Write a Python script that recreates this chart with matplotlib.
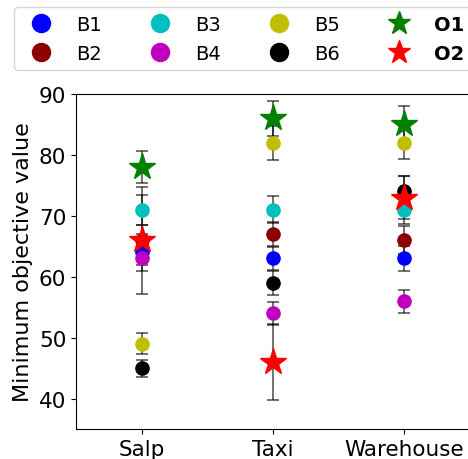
import matplotlib.pyplot as plt
from matplotlib.lines import Line2D

benchmarks = ["Salp", "Taxi", "Warehouse"]

# mean minimum objective value and error per method
B1 = [64, 63, 63]
B1_err = [3.0, 1.9, 2.1]
B2 = [66, 67, 66]
B2_err = [2.5, 2.0, 2.3]
B3 = [71, 71, 71]
B3_err = [2.5, 2.2, 2.3]
B4 = [63, 54, 56]
B4_err = [1.1, 1.9, 1.9]
B5 = [49, 82, 82]
B5_err = [1.7, 2.8, 2.7]
B6 = [45, 59, 74]
B6_err = [1.4, 2.0, 2.5]
O1 = [78, 86, 85]
O1_err = [2.6, 2.9, 3.0]
O2 = [66, 46, 73]
O2_err = [8.8, 6.2, 3.5]

labels = ["B1", "B2", "B3", "B4", "B5", "B6", "O1", "O2"]
means = [B1, B2, B3, B4, B5, B6, O1, O2]
errs = [B1_err, B2_err, B3_err, B4_err, B5_err, B6_err, O1_err, O2_err]
colors = ["blue", "darkred", "c", "m", "y", "k", "g", "r"]
markers = ["o"] * 6 + ["*"] * 2

fig = plt.figure(figsize=(4.68, 4.6), dpi=100)
ax = fig.add_axes([76 / 468, 30 / 460, 394 / 468, 335 / 460])

x = list(range(len(benchmarks)))
for lab, m, e, c, mk in zip(labels, means, errs, colors, markers):
    ms = 20 if mk == "*" else 9.5
    ax.errorbar(x, m, yerr=e, fmt=mk, color=c, ms=ms, ecolor=(0, 0, 0, 0.6),
                elinewidth=1.3, capsize=4, capthick=1.3, label=lab)

ax.set_xlim(-0.5, 2.5)
ax.set_ylim(35, 90)
ax.set_xticks(x)
ax.set_xticklabels(benchmarks)
ax.set_yticks([40, 50, 60, 70, 80, 90])
ax.tick_params(labelsize=15.5)
ax.set_ylabel("Minimum objective value", fontsize=16)

# legend: markers only, arranged in 4 columns
order = [0, 1, 2, 3, 4, 5, 6, 7]
handles = []
for i in order:
    ms = 17 if markers[i] == "*" else 13
    handles.append(Line2D([], [], linestyle="none", marker=markers[i],
                          color=colors[i], ms=ms))
leg = fig.legend(handles, labels, ncol=4, fontsize=14, loc="upper left",
                 bbox_to_anchor=(14 / 468, 1 - 8 / 460), borderaxespad=0)
for t in leg.get_texts():
    if t.get_text().startswith("O"):
        t.set_fontweight("bold")

fig.savefig("out.png", dpi=100)
